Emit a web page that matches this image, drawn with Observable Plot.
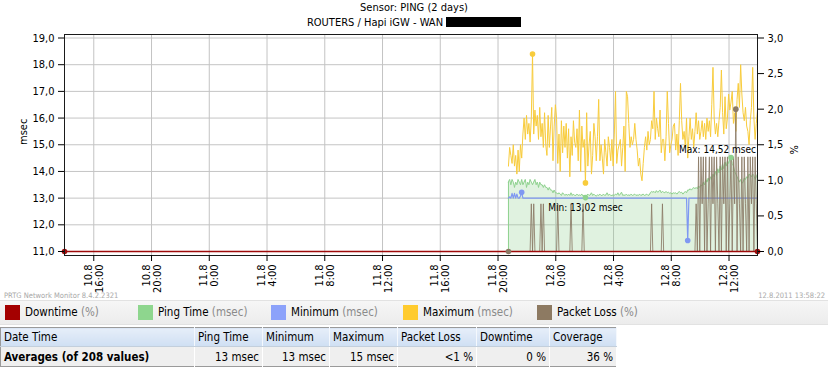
<!DOCTYPE html>
<html><head><meta charset="utf-8">
<script src="https://cdn.jsdelivr.net/npm/d3@7"></script>
<script src="https://cdn.jsdelivr.net/npm/@observablehq/plot@0.6"></script>
<style>
html,body{margin:0;padding:0;background:#fff;}
#wrap{position:relative;width:828px;height:368px;overflow:hidden;font-family:"DejaVu Sans Condensed","DejaVu Sans",sans-serif;color:#000;}
.t{position:absolute;left:0;width:828px;text-align:center;font-size:11px;line-height:13px;}
.redact{display:inline-block;width:75px;height:10px;background:#000;vertical-align:-1px;margin-left:3px;}
#chart{position:absolute;left:0;top:0;}
.small{position:absolute;top:291px;font-size:7.5px;color:#a8a8a8;line-height:10px;}
#legend{position:absolute;left:0;top:300px;width:828px;height:23px;background:linear-gradient(#f6f6f6,#ececec);border-top:1px solid #e2e2e2;border-bottom:1px solid #e2e2e2;}
.li{position:absolute;top:4px;font-size:11.5px;line-height:15px;white-space:nowrap;}
.sw{display:inline-block;width:15px;height:15px;vertical-align:top;margin-right:5px;}
.u{color:#8a8a8a;}
table{position:absolute;left:0;top:327px;border-collapse:collapse;font-size:11.5px;border:1px solid #9a9a9a;table-layout:fixed;}
th{font-weight:normal;text-align:left;padding:0 3px;height:18px;background:linear-gradient(#e6eef9,#cfdff3);border-right:1px solid #f4f8fd;border-bottom:1px solid #c3cfdc;}
td{text-align:right;padding:0 3px;height:19px;background:#efefef;border-right:1px solid #ffffff;}
td.l{text-align:left;font-weight:bold;}
</style></head><body>
<div id="wrap">
  <div class="t" style="top:1px">Sensor: PING (2 days)</div>
  <div class="t" style="top:16px">ROUTERS / Hapi iGW - WAN<span class="redact"></span></div>
  <div id="chart"></div>
  <div class="small" style="left:4px">PRTG Network Monitor 8.4.2.2321</div>
  <div class="small" style="right:3px">12.8.2011 13:58:22</div>
  <div id="legend"></div>
  <table id="tbl"></table>
</div>
<script>
// ---- data ----
const domainStart = "2011-08-10T13:58:22Z";
const domainEnd = "2011-08-12T13:58:22Z";
const seriesStart = "2011-08-11T20:43:22Z"; // first 5-minute value
const stepMinutes = 5;

const pingTime = [
13.6,13.7,13.5,13.7,13.6,13.4,13.6,13.5,13.7,13.6,
13.5,13.7,13.5,13.6,13.7,13.4,13.6,13.5,13.7,13.6,
13.5,13.6,13.7,13.5,13.6,13.4,13.6,13.5,13.5,13.4,
13.5,13.4,13.4,13.3,13.4,13.3,13.3,13.2,13.3,13.2,
13.2,13.15,13.2,13.15,13.1,13.2,13.15,13.1,13.15,13.1,
13.15,13.1,13.2,13.1,13.15,13.1,13.1,13.15,13.1,13.12,
13.1,13.15,13.08,13.1,13.02,13.1,13.15,13.1,13.12,13.2,
13.1,13.15,13.1,13.08,13.12,13.1,13.15,13.1,13.1,13.15,
13.1,13.12,13.2,13.1,13.15,13.1,13.1,13.12,13.1,13.15,
13.12,13.2,13.1,13.15,13.22,13.1,13.12,13.1,13.15,13.1,
13.12,13.1,13.15,13.1,13.12,13.15,13.1,13.12,13.1,13.15,
13.1,13.12,13.15,13.1,13.12,13.15,13.1,13.12,13.2,13.25,
13.22,13.25,13.2,13.28,13.22,13.25,13.3,13.2,13.25,13.22,
13.2,13.25,13.2,13.22,13.18,13.2,13.15,13.2,13.18,13.2,
13.15,13.2,13.25,13.2,13.22,13.15,13.2,13.25,13.2,13.3,
13.3,13.35,13.3,13.35,13.4,13.35,13.4,13.35,13.45,13.4,
13.5,13.45,13.6,13.5,13.7,13.6,13.75,13.65,13.8,13.7,
13.9,13.8,14.0,13.85,14.1,13.95,14.2,14.05,14.3,14.1,
14.35,14.2,14.4,14.3,14.45,14.52,14.3,14.2,14.0,13.9,
13.8,13.7,13.6,13.7,13.55,13.6,13.75,13.7,13.8,13.75,
13.9,13.85,13.8,13.9,13.85,13.7,13.8,13.9
];

const minimum = [
13.0,13.05,13.0,13.18,13.0,13.18,13.0,13.15,13.0,13.0,
13.08,13.22,13.0,13.0,13.0,13.0,13.0,13.0,13.0,13.0,
13.0,13.0,13.0,13.0,13.0,13.0,13.0,13.0,13.0,13.0,
13.0,13.0,13.0,13.0,13.0,13.0,13.0,13.0,13.0,13.0,
13.0,13.0,13.0,13.0,13.0,13.0,13.0,13.0,13.0,13.0,
13.0,13.0,13.0,13.0,13.0,13.0,13.0,13.0,13.0,13.0,
13.0,13.0,13.0,13.0,13.0,13.0,13.0,13.0,13.0,13.0,
13.0,13.0,13.0,13.0,13.0,13.0,13.0,13.0,13.0,13.0,
13.0,13.0,13.0,13.0,13.0,13.0,13.0,13.0,13.0,13.0,
13.0,13.0,13.0,13.0,13.0,13.0,13.0,13.0,13.0,13.0,
13.0,13.0,13.0,13.0,13.0,13.0,13.0,13.0,13.0,13.0,
13.0,13.0,13.0,13.0,13.0,13.0,13.0,13.0,13.0,13.0,
13.0,13.0,13.0,13.0,13.0,13.0,13.0,13.0,13.0,13.0,
13.0,13.0,13.0,13.0,13.0,13.0,13.0,13.0,13.0,13.0,
13.0,13.0,13.0,13.0,13.0,13.0,13.0,13.0,13.0,11.41,
13.0,13.0,13.0,13.0,13.0,13.0,13.0,13.0,13.0,13.0,
13.0,13.0,13.0,13.0,13.0,13.0,13.0,13.0,13.0,13.0,
13.0,13.0,13.0,13.0,13.0,13.0,13.0,13.0,13.0,13.0,
13.0,13.0,13.0,13.0,13.0,13.0,13.0,13.0,13.0,13.0,
13.0,13.0,13.0,13.0,13.0,13.0,13.0,13.0,13.0,13.0,
13.0,13.0,13.0,13.0,13.0,13.0,13.0,13.0
];

const maximum = [
14.2,14.9,14.6,14.3,15.0,14.2,14.6,13.9,14.8,14.0,
15.0,14.5,15.4,16.0,15.2,16.1,15.4,15.8,15.1,16.0,
18.4,15.4,16.3,15.7,16.1,15.2,16.4,15.3,15.8,14.9,
16.2,15.0,14.6,16.1,14.9,15.7,16.4,14.4,15.7,16.5,
16.0,14.3,15.4,14.0,15.9,14.7,15.7,14.9,15.8,14.5,
15.6,13.8,15.3,14.6,15.9,15.1,14.9,15.6,14.4,16.3,
14.0,15.7,14.9,15.2,
13.57,16.2,14.2,15.0,15.5,13.9,14.6,15.8,15.3,14.4,
15.3,16.7,14.4,15.0,14.5,13.9,15.2,14.7,14.2,15.3,
14.9,14.4,15.2,14.2,15.4,17.0,14.3,14.8,15.0,15.2,
14.2,14.9,15.7,14.0,17.0,16.8,15.8,14.9,15.3,15.0,
15.2,15.8,15.2,14.8,14.2,14.5,13.9,13.65,14.3,14.9,
15.3,14.8,15.5,15.0,15.2,15.9,15.6,17.0,15.2,16.0,
15.6,15.3,16.3,14.7,15.2,15.2,14.4,15.3,17.0,15.8,
14.7,15.0,15.2,15.7,15.8,14.8,15.4,14.6,15.9,17.3,
15.9,15.2,15.5,14.9,16.0,14.5,15.3,16.0,15.2,15.6,
14.9,15.5,16.2,15.4,15.9,15.2,15.5,15.9,15.3,15.8,
15.2,16.0,15.5,15.9,15.3,16.5,17.9,16.0,15.4,15.8,
15.3,15.9,16.4,17.8,16.2,15.4,16.8,15.6,16.0,16.9,
16.3,16.6,17.0,15.8,16.2,15.5,16.7,17.3,16.4,18.0,
16.9,16.2,15.9,16.4,15.7,15.5,15.0,15.9,16.4,17.9,
16.0,15.2,15.8,16.3
];

const packetLoss = [
0,0,0,0,0,0,0,0,0,0,
0,0,0,0,0,0,0,0,0,0.67,
0,0.67,0,0,0,0,0,0.67,0,0.67,
0,0,0,0,0,0,0,0,0,0,
0,0.67,0,0,0,0,0,0,0,0,
0,0,0.67,0,0,0,0,0,0,0,
0,0,0.67,0,0,0,0,0,0,0,
0,0,0,0,0,0,0,0,0,0,
0,0,0,0,0,0,0,0,0,0,
0,0,0,0,0,0,0,0,0,0,
0,0,0,0,0,0,0,0,0,0,
0,0,0,0,0,0,0,0,0,0.67,
0,0,0,0,0,0,0,0,0.67,0,
0,0,0,0,0,0,0,0,0,0,
0,0,0,0,0,0,0,0,0,0,
0,0,0,0,0,0,0.67,0,1.33,0,
1.33,0.67,1.33,0,1.33,0,0.67,1.33,0,1.33,
0.67,1.33,0,1.33,0.67,0,1.33,0,1.33,0.67,
1.33,0,1.33,0,0.67,1.33,0,1.33,0.67,2.0,
0,1.33,0.67,0,1.33,0,1.33,0.67,0,1.33,
0,1.33,0.67,1.33,0,1.33,0.67,0
];

const downtimeTimes = ["2011-08-10T13:58:22Z", "2011-08-12T13:58:22Z"];
const downtime = [0, 0];

const tickTimes = ["2011-08-10T16:00:00Z","2011-08-10T20:00:00Z","2011-08-11T00:00:00Z","2011-08-11T04:00:00Z",
  "2011-08-11T08:00:00Z","2011-08-11T12:00:00Z","2011-08-11T16:00:00Z","2011-08-11T20:00:00Z",
  "2011-08-12T00:00:00Z","2011-08-12T04:00:00Z","2011-08-12T08:00:00Z","2011-08-12T12:00:00Z"];
const msecTicks = [11,12,13,14,15,16,17,18,19];
const pctTicks = [0,0.5,1,1.5,2,2.5,3];

const legendItems = [
  {name:"Downtime", unit:"(%)", color:"#a40000"},
  {name:"Ping Time", unit:"(msec)", color:"#8ed68e"},
  {name:"Minimum", unit:"(msec)", color:"#8ca2fa"},
  {name:"Maximum", unit:"(msec)", color:"#ffcb2e"},
  {name:"Packet Loss", unit:"(%)", color:"#8d7a62"}
];
const tableHeader = ["Date Time","Ping Time","Minimum","Maximum","Packet Loss","Downtime","Coverage"];
const tableRow = ["Averages (of 208 values)","13 msec","13 msec","15 msec","<1 %","0 %","36 %"];

// ---- build ----
const C = {down:"#9e0a0a", ping:"#8fd28f", min:"#7f98f2", max:"#f8cc3c", loss:"#8b7a66"};
const FONT = '"DejaVu Sans Condensed","DejaVu Sans",sans-serif';
const MS_MIN = 11, MS_MAX = 19, PCT_MAX = 3;
const pctToY = p => MS_MIN + p * (MS_MAX - MS_MIN) / PCT_MAX;
const comma = (v, n) => v.toFixed(n).replace(".", ",");

const t0 = new Date(seriesStart).getTime();
const rows = pingTime.map((p, i) => ({
  t: new Date(t0 + i * stepMinutes * 60000),
  ping: p, min: minimum[i], max: maximum[i], loss: packetLoss[i], lossY: pctToY(packetLoss[i])
}));
const down = downtimeTimes.map((d, i) => ({t: new Date(d), y: pctToY(downtime[i])}));

const extreme = key => [rows[d3.minIndex(rows, d => d[key])], rows[d3.maxIndex(rows, d => d[key])]];
const pingExt = extreme("ping"), minExt = extreme("min"), maxExt = extreme("max"), lossExt = extreme("loss");

const fmtTick = d => {
  const dt = new Date(d);
  return `${dt.getUTCDate()}.${dt.getUTCMonth() + 1}\n${dt.getUTCHours()}:${String(dt.getUTCMinutes()).padStart(2, "0")}`;
};

const chart = Plot.plot({
  width: 828, height: 300,
  marginLeft: 64, marginRight: 71, marginTop: 34, marginBottom: 45,
  x: {type: "utc", domain: [new Date(domainStart), new Date(domainEnd)]},
  y: {domain: [MS_MIN, MS_MAX], insetTop: 3.5, insetBottom: 4},
  style: {fontFamily: FONT, fontSize: "11px", color: "#000", background: "transparent"},
  marks: [
    Plot.gridY(msecTicks, {stroke: "#c4c4c4", strokeOpacity: 1}),
    Plot.gridX(tickTimes.map(d => new Date(d)), {stroke: "#c4c4c4", strokeOpacity: 1}),
    Plot.areaY(rows, {x: "t", y1: MS_MIN, y2: "ping", fill: C.ping, fillOpacity: 0.28}),
    Plot.line(rows, {x: "t", y: "ping", stroke: C.ping, strokeWidth: 1}),
    Plot.ruleX([rows[0]], {x: "t", y1: MS_MIN, y2: "ping", stroke: C.ping, strokeWidth: 1}),
    Plot.line(rows, {x: "t", y: "min", stroke: C.min, strokeWidth: 1.2}),
    Plot.line(rows, {x: "t", y: "max", stroke: C.max, strokeWidth: 1}),
    Plot.line(rows, {x: "t", y: "lossY", stroke: C.loss, strokeWidth: 1, strokeOpacity: 0.85}),
    Plot.line(down, {x: "t", y: "y", stroke: C.down, strokeWidth: 1.5}),
    Plot.dot(pingExt, {x: "t", y: "ping", fill: C.ping, r: 2.8}),
    Plot.dot(minExt, {x: "t", y: "min", fill: C.min, r: 2.8}),
    Plot.dot(maxExt, {x: "t", y: "max", fill: C.max, r: 2.8}),
    Plot.dot(lossExt, {x: "t", y: "lossY", fill: C.loss, r: 2.8}),
    Plot.dot(down, {x: "t", y: "y", fill: C.down, r: 2.8}),
    Plot.text([pingExt[0]], {x: "t", y: "ping", text: d => `Min: ${comma(d.ping, 2)} msec`, dy: 10, fontSize: 10, fill: "#000"}),
    Plot.text([pingExt[1]], {x: "t", y: "ping", text: d => `Max: ${comma(d.ping, 2)} msec`, dy: -8, dx: 25, fontSize: 10, textAnchor: "end", fill: "#000"}),
    Plot.frame({stroke: "#1a1a1a"}),
    Plot.axisY(msecTicks, {anchor: "left", tickSize: 6, tickPadding: 4, tickFormat: d => comma(d, 1), label: null}),
    Plot.axisY(pctTicks.map(pctToY), {anchor: "right", tickSize: 6, tickPadding: 4, tickFormat: d => comma((d - MS_MIN) * PCT_MAX / (MS_MAX - MS_MIN), 1), label: null}),
    Plot.axisX(tickTimes.map(d => new Date(d)), {tickSize: 6, tickPadding: 3, tickRotate: -90, tickFormat: fmtTick, label: null}),
    Plot.text(["msec"], {frameAnchor: "left", dx: -41, rotate: -90, text: d => d, fill: "#000"}),
    Plot.text(["%"], {frameAnchor: "right", dx: 37, rotate: -90, text: d => d, fill: "#000"})
  ]
});
document.getElementById("chart").appendChild(chart);

// legend
const lefts = [5, 138, 271, 403, 537];
const leg = document.getElementById("legend");
legendItems.forEach((it, i) => {
  const d = document.createElement("div");
  d.className = "li";
  d.style.left = lefts[i] + "px";
  d.innerHTML = `<span class="sw" style="background:${it.color}"></span>${it.name} <span class="u">${it.unit}</span>`;
  leg.appendChild(d);
});

// table
const widths = [194, 68, 67, 68, 79, 73, 67];
const tbl = document.getElementById("tbl");
const cg = document.createElement("colgroup");
widths.forEach(w => { const c = document.createElement("col"); c.style.width = w + "px"; cg.appendChild(c); });
tbl.appendChild(cg);
const tr1 = document.createElement("tr");
tableHeader.forEach(h => { const th = document.createElement("th"); th.textContent = h; tr1.appendChild(th); });
tbl.appendChild(tr1);
const tr2 = document.createElement("tr");
tableRow.forEach((v, i) => { const td = document.createElement("td"); td.textContent = v; if (i === 0) td.className = "l"; tr2.appendChild(td); });
tbl.appendChild(tr2);
</script>
</body></html>
